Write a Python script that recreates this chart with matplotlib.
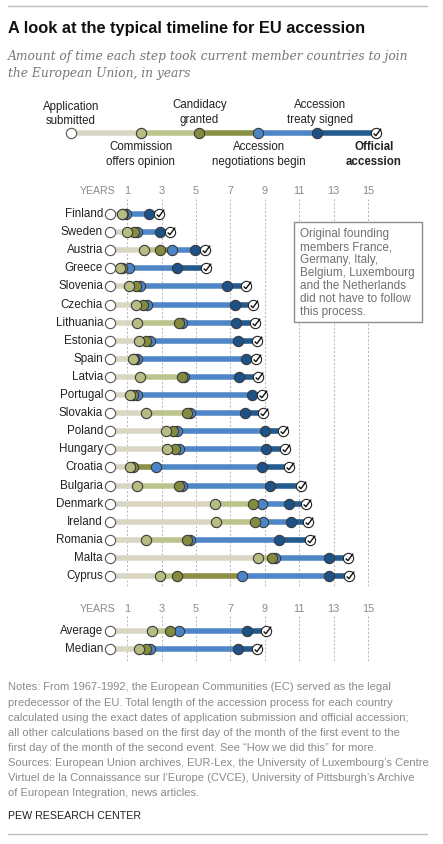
import numpy as np
import matplotlib.pyplot as plt
from matplotlib.path import Path
from matplotlib.patches import Rectangle

plt.rcParams['font.family'] = ['Liberation Sans', 'DejaVu Sans']

# years after application for each step
countries = ['Finland', 'Sweden', 'Austria', 'Greece', 'Slovenia', 'Czechia', 'Lithuania',
             'Estonia', 'Spain', 'Latvia', 'Portugal', 'Slovakia', 'Poland', 'Hungary',
             'Croatia', 'Bulgaria', 'Denmark', 'Ireland', 'Romania', 'Malta', 'Cyprus']
commission = [0.67, 1.0, 2.0, 0.58, 1.08, 1.5, 1.58, 1.67, 1.33, 1.75, 1.17, 2.08, 3.25, 3.33,
              1.17, 1.58, 6.08, 6.17, 2.08, 8.58, 2.92]
candidacy = [0.75, 1.42, 2.92, 0.67, 1.5, 1.92, 4.0, 2.08, 1.42, 4.17, 1.33, 4.5, 3.67, 3.75,
             1.33, 4.0, 8.33, 8.42, 4.5, 9.42, 3.92]
negotiations = [0.92, 1.58, 3.58, 1.08, 1.75, 2.17, 4.17, 2.33, 1.58, 4.33, 1.58, 4.67, 3.92, 4.0,
                2.67, 4.17, 8.83, 8.92, 4.67, 9.58, 7.67]
treaty = [2.25, 2.92, 4.92, 3.92, 6.83, 7.25, 7.33, 7.42, 7.92, 7.5, 8.25, 7.83, 9.0, 9.08,
          8.83, 9.33, 10.42, 10.5, 9.83, 12.75, 12.75]
accession = [2.83, 3.5, 5.5, 5.58, 7.92, 8.33, 8.42, 8.55, 8.5, 8.6, 8.85, 8.9, 10.08, 10.15,
             10.42, 11.1, 11.42, 11.5, 11.6, 13.85, 13.88]

summary = ['Average', 'Median']
sum_commission = [2.47, 1.67]
sum_candidacy = [3.5, 2.08]
sum_negotiations = [4.0, 2.33]
sum_treaty = [7.98, 7.42]
sum_accession = [9.05, 8.52]

year_ticks = [1, 3, 5, 7, 9, 11, 13, 15]

seg_colors = ['#d9d6c4', '#bdc38c', '#8a9046', '#4f87c6', '#235b8f']
dot_colors = ['#b7bd82', '#848b3f', '#4b85c7', '#1d5289']
edge = '#3a3a3a'

# pixel layout: year 0 sits at x=110px, 17.2px per year
X0, PX = 110.0, 17.2
W, H = 443, 844


def yr(px):
    return (px - X0) / PX


fig = plt.figure(figsize=(W / 100, H / 100), dpi=100)
ax = fig.add_axes([0, 0, 1, 1])
ax.set_xlim(yr(0), yr(W))
ax.set_ylim(H, 0)
ax.axis('off')

MS = 7.4
LW = 4.0
check_verts = [(-0.55, 0.0), (-0.12, -0.42), (0.9, 0.95)]
check_path = Path(check_verts, [Path.MOVETO, Path.LINETO, Path.LINETO])
check_ms = 0.95 * MS


def draw_row(y, xs, label=None):
    # xs: application, commission, candidacy, negotiations, treaty, accession
    for i in range(5):
        ax.plot([xs[i], xs[i + 1]], [y, y], color=seg_colors[i], lw=LW,
                solid_capstyle='butt', zorder=2)
    # earlier steps sit on top of later ones
    for i in range(3, -1, -1):
        ax.plot(xs[i + 1], y, 'o', ms=MS, mfc=dot_colors[i], mec=edge, mew=0.8, zorder=3 + (4 - i))
    ax.plot(xs[0], y, 'o', ms=MS, mfc='white', mec='#555555', mew=0.8, zorder=8)
    ax.plot(xs[5], y, 'o', ms=MS, mfc='white', mec='#222222', mew=0.8, zorder=8)
    ax.plot(xs[5], y, marker=check_path, ms=check_ms, mfc='none', mec='#111111', mew=1.0,
            ls='none', zorder=9)
    if label:
        ax.text(yr(103), y, label, ha='right', va='center', fontsize=8.4, color='#222222')


def draw_axis(ytick, y0, y1):
    ax.text(yr(116), ytick, 'YEARS', ha='right', va='center', fontsize=7.6, color='#8a8a8a')
    for t in year_ticks:
        ax.text(t, ytick, str(t), ha='center', va='center', fontsize=7.8, color='#8a8a8a')
        ax.plot([t, t], [y0, y1], color='#b5b5b5', lw=0.7, ls=(0, (2, 2)), zorder=1)


# header
ax.plot([yr(8), yr(427)], [6, 6], color='#bdbdbd', lw=1.0)
ax.text(yr(8), 28.5, 'A look at the typical timeline for EU accession', fontsize=11.8,
        fontweight='bold', ha='left', va='center', color='#111111')
ax.text(yr(8), 56.5, 'Amount of time each step took current member countries to join',
        fontsize=8.8, style='italic', family='DejaVu Serif', ha='left', va='center', color='#777777')
ax.text(yr(8), 74, 'the European Union, in years',
        fontsize=8.8, style='italic', family='DejaVu Serif', ha='left', va='center', color='#777777')

# legend timeline
draw_row(133.3, [yr(p) for p in [71, 140.5, 199.3, 258.3, 317.3, 376]])

lab = dict(ha='center', va='center', fontsize=8.3, color='#222222', linespacing=1.25)
ax.text(yr(71), 114, 'Application\nsubmitted', **lab)
ax.text(yr(199.3), 112.5, 'Candidacy\ngranted', **lab)
ax.text(yr(320), 112.5, 'Accession\ntreaty signed', **lab)
ax.text(yr(140.5), 154.5, 'Commission\noffers opinion', **lab)
ax.text(yr(259), 154.5, 'Accession\nnegotiations begin', **lab)
ax.text(yr(374), 154.5, 'Official\naccession', fontweight='bold', **lab)

# main chart
row0, step = 214.0, 18.1
draw_axis(191, 199, 586)
for k, c in enumerate(countries):
    draw_row(row0 + k * step, [0, commission[k], candidacy[k], negotiations[k],
                               treaty[k], accession[k]], c)

ax.add_patch(Rectangle((yr(293.5), 221.5), yr(421.5) - yr(293.5), 100.5, facecolor='white',
                       edgecolor='#8c8c8c', lw=1.0, zorder=10))
box_lines = ['Original founding', 'members France,', 'Germany, Italy,', 'Belgium, Luxembourg',
             'and the Netherlands', 'did not have to follow', 'this process.']
for k, t in enumerate(box_lines):
    ax.text(yr(299.5), 234.3 + k * 13.0, t, ha='left', va='center', fontsize=8.5,
            color='#707070', zorder=11)

# summary rows
draw_axis(609, 616, 661)
for k, s in enumerate(summary):
    draw_row(631 + k * 18.1, [0, sum_commission[k], sum_candidacy[k], sum_negotiations[k],
                              sum_treaty[k], sum_accession[k]], s)

# notes
notes = [
    'Notes: From 1967-1992, the European Communities (EC) served as the legal',
    'predecessor of the EU. Total length of the accession process for each country',
    'calculated using the exact dates of application submission and official accession;',
    'all other calculations based on the first day of the month of the first event to the',
    'first day of the month of the second event. See \u201cHow we did this\u201d for more.',
    'Sources: European Union archives, EUR-Lex, the University of Luxembourg\u2019s Centre',
    'Virtuel de la Connaissance sur l\u2019Europe (CVCE), University of Pittsburgh\u2019s Archive',
    'of European Integration, news articles.',
]
for k, t in enumerate(notes):
    ax.text(yr(8), 687.5 + k * 15.1, t, ha='left', va='center', fontsize=8.0, color='#8a8a8a')
ax.text(yr(8), 816, 'PEW RESEARCH CENTER', ha='left', va='center', fontsize=7.7, color='#222222')
ax.plot([yr(8), yr(427)], [834, 834], color='#bdbdbd', lw=1.0)

fig.savefig('out.png', dpi=100)
